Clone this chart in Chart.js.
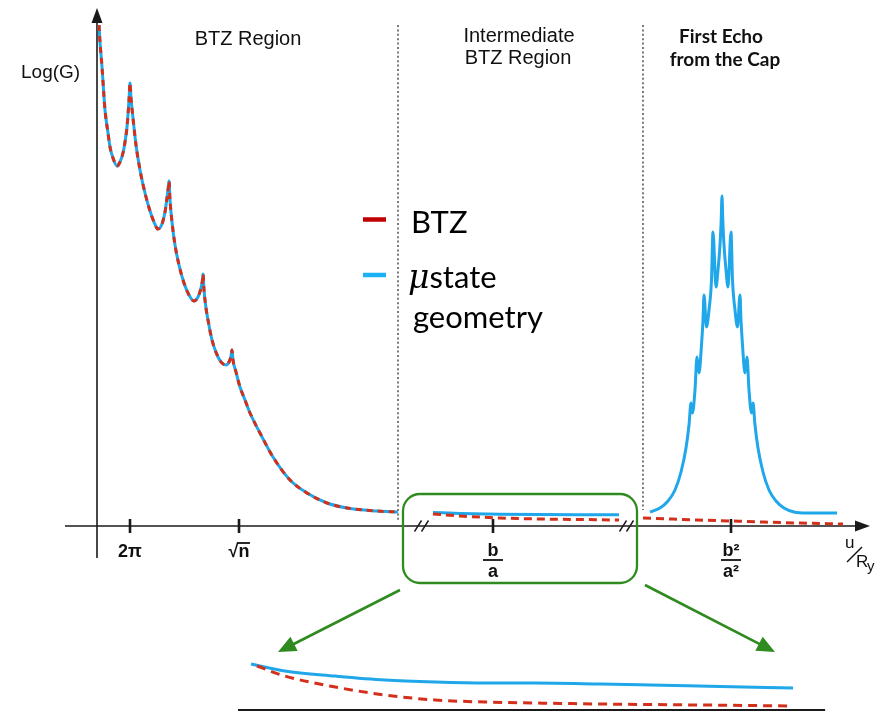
<!DOCTYPE html>
<html><head><meta charset="utf-8">
<script src="https://cdn.jsdelivr.net/npm/chart.js@4"></script>
<style>
html,body{margin:0;padding:0;background:#fff;overflow:hidden}
#wrap{position:relative;width:887px;height:711px;background:#fff}
#main{position:absolute;left:0;top:0}
#inset{position:absolute;left:238px;top:645px}
</style></head><body>
<div id="wrap"><canvas id="main" width="887" height="711"></canvas><canvas id="inset" width="592" height="66"></canvas></div>
<script>
// ---------- DATA (schematic units: x ~ u/R_y, y ~ Log(G)) ----------
// BTZ region: both geometries coincide
const btzX = [0.2,0.3,0.5,0.8,1.1,1.3,1.6,2.0,2.3,2.6,2.8,3.0,3.2,3.3,3.4,3.6,3.9,4.3,4.8,5.3,5.7,6.1,6.5,6.8,7.0,7.15,7.2,7.3,7.5,7.8,8.2,8.7,9.2,9.7,10.1,10.4,10.55,10.6,10.7,10.9,11.1,11.5,12.1,12.5,12.9,13.2,13.4,13.5,13.6,13.9,14.3,14.8,15.3,16.3,17.6,19.3,21.0,23.0,25.0,28.0,30.1];
const btzY = [50.1,48.4,45.9,41.6,39.3,37.9,36.8,36.0,36.4,37.3,38.4,39.9,42.6,44.3,42.8,40.8,38.1,35.6,33.3,31.5,30.4,29.7,30.2,31.4,32.8,34.0,34.5,32.6,30.4,28.1,26.1,24.3,23.1,22.5,22.9,23.8,24.6,25.2,23.6,21.8,20.6,18.6,16.9,16.3,16.1,16.4,17.0,17.6,16.6,15.4,13.9,12.6,11.3,9.3,6.9,4.6,3.3,2.3,1.8,1.5,1.4];
// Intermediate BTZ region
const midX = [33.6,36.3,40.3,44.3,48.3,52.2];
const midMicrostate = [1.35,1.25,1.17,1.14,1.13,1.12];
const midBTZ = [1.2,1.0,0.8,0.7,0.65,0.6];
// First echo from the cap
const echoX = [55.3,56.3,57.1,57.8,58.4,58.9,59.2,59.4,59.55,59.8,60.0,60.2,60.45,60.6,60.7,60.95,61.2,61.45,61.6,61.9,62.1,62.3,62.42,62.5,62.58,62.7,62.9,63.1,63.4,63.55,63.8,64.05,64.3,64.4,64.55,64.8,65.0,65.2,65.45,65.6,65.8,66.1,66.6,67.2,67.9,68.7,69.7,71.0,74.0];
const echoMicrostate = [1.4,1.8,2.5,3.6,5.4,7.8,10.1,12.3,11.3,13.6,16.9,15.3,18.1,20.6,23.1,19.9,21.6,24.6,29.4,23.9,25.6,28.1,30.6,33.0,30.6,28.1,25.6,23.9,29.4,24.6,21.6,19.9,23.1,20.6,18.1,15.3,16.9,13.6,11.3,12.3,10.1,7.8,5.4,3.6,2.5,1.8,1.4,1.3,1.3];
const echoBtzX = [54.6,60.0,65.0,70.0,74.6];
const echoBtzY = [0.8,0.6,0.45,0.3,0.2];
// Axis ticks
const tickPos = [3.3, 14.2, 39.6, 63.4];
const tickLabels = ['2π', '√n', 'b/a', 'b²/a²'];
const breakPos = [32.5, 53.0];
const dividerPos = [30.1, 54.6];
// Zoomed inset of the intermediate region
const insetX = [0.2,6.4,15.7,24.9,34.1,43.3,52.5,64.5,73.7,86.6,100];
const insetMicrostate = [4.6,3.9,3.4,3.0,2.8,2.7,2.7,2.6,2.5,2.35,2.2];
const insetBtzX = [1.3,6.4,15.7,24.9,34.1,43.3,52.5,64.5,82.9,100];
const insetBtzY = [4.4,3.4,2.3,1.5,1.0,0.8,0.7,0.6,0.5,0.4];

const BLUE = '#1fa7ea', RED = '#d3301c', GREEN = '#2f8a1f';
const pts = (xs, ys) => xs.map((x, i) => ({x, y: ys[i]}));

function line(label, data, color, dash, order) {
  return {label, data, borderColor: color, borderWidth: 3, borderDash: dash || [],
    pointRadius: 0, fill: false, cubicInterpolationMode: 'monotone', order,
    borderCapStyle: 'butt', borderJoinStyle: 'round'};
}

const overlay = {
  id: 'overlay',
  beforeDatasetsDraw(chart) {
    const {ctx, scales: {x, y}} = chart;
    const X = v => x.getPixelForValue(v), Y = v => y.getPixelForValue(v);
    ctx.save();
    // region dividers
    ctx.strokeStyle = '#333'; ctx.lineWidth = 1.3; ctx.setLineDash([2, 2.4]);
    ctx.beginPath(); ctx.moveTo(X(dividerPos[0]), Y(50.1)); ctx.lineTo(X(dividerPos[0]), Y(0.5)); ctx.stroke();
    ctx.beginPath(); ctx.moveTo(X(dividerPos[1]), Y(50.1)); ctx.lineTo(X(dividerPos[1]), Y(1.6)); ctx.stroke();
    ctx.setLineDash([]);
    // axes
    ctx.strokeStyle = '#1a1a1a'; ctx.fillStyle = '#1a1a1a'; ctx.lineWidth = 1.6;
    const x0 = X(0), y0 = Y(0);
    const yTip = Y(51.8), xTip = X(77.3);
    ctx.beginPath(); ctx.moveTo(x0, Y(-3.2)); ctx.lineTo(x0, yTip + 10); ctx.stroke();
    ctx.beginPath(); ctx.moveTo(x0, yTip); ctx.lineTo(x0 - 5.5, yTip + 15); ctx.lineTo(x0 + 5.5, yTip + 15); ctx.closePath(); ctx.fill();
    ctx.beginPath(); ctx.moveTo(X(-3.2), y0); ctx.lineTo(xTip - 10, y0); ctx.stroke();
    ctx.beginPath(); ctx.moveTo(xTip, y0); ctx.lineTo(xTip - 15, y0 - 5.5); ctx.lineTo(xTip - 15, y0 + 5.5); ctx.closePath(); ctx.fill();
    // ticks
    ctx.lineWidth = 2.6;
    tickPos.forEach(t => { ctx.beginPath(); ctx.moveTo(X(t), Y(0.7)); ctx.lineTo(X(t), Y(-0.7)); ctx.stroke(); });
    // axis breaks
    ctx.lineWidth = 1.4;
    breakPos.forEach(b => {
      [-4, 3].forEach(o => { ctx.beginPath(); ctx.moveTo(X(b) + o - 3.5, y0 + 5.5); ctx.lineTo(X(b) + o + 3.5, y0 - 5.5); ctx.stroke(); });
    });
    // green highlight box
    ctx.strokeStyle = GREEN; ctx.lineWidth = 2.3;
    const bx0 = X(30.6), bx1 = X(54.0), by0 = Y(3.2), by1 = Y(-5.7), r = 17;
    ctx.beginPath();
    ctx.moveTo(bx0 + r, by0); ctx.lineTo(bx1 - r, by0); ctx.arcTo(bx1, by0, bx1, by0 + r, r);
    ctx.lineTo(bx1, by1 - r); ctx.arcTo(bx1, by1, bx1 - r, by1, r);
    ctx.lineTo(bx0 + r, by1); ctx.arcTo(bx0, by1, bx0, by1 - r, r);
    ctx.lineTo(bx0, by0 + r); ctx.arcTo(bx0, by0, bx0 + r, by0, r);
    ctx.stroke();
    // green arrows to inset
    const arrow = (ax, ay, bx, by) => {
      const x1 = X(ax), y1 = Y(ay), x2 = X(bx), y2 = Y(by);
      const ang = Math.atan2(y2 - y1, x2 - x1), L = 18, W = 8;
      ctx.fillStyle = GREEN; ctx.lineWidth = 2.6;
      ctx.beginPath(); ctx.moveTo(x1, y1); ctx.lineTo(x2 - Math.cos(ang) * L * 0.8, y2 - Math.sin(ang) * L * 0.8); ctx.stroke();
      ctx.beginPath(); ctx.moveTo(x2, y2);
      ctx.lineTo(x2 - L * Math.cos(ang) + W * Math.sin(ang), y2 - L * Math.sin(ang) - W * Math.cos(ang));
      ctx.lineTo(x2 - L * Math.cos(ang) - W * Math.sin(ang), y2 - L * Math.sin(ang) + W * Math.cos(ang));
      ctx.closePath(); ctx.fill();
    };
    arrow(30.3, -6.4, 18.1, -12.6);
    arrow(54.8, -5.9, 67.8, -12.6);
    ctx.restore();
  },
  afterDatasetsDraw(chart) {
    const {ctx, scales: {x, y}} = chart;
    const X = v => x.getPixelForValue(v), Y = v => y.getPixelForValue(v);
    ctx.save();
    ctx.fillStyle = '#111';
    // region titles
    ctx.font = '20px "Liberation Sans", Arial, sans-serif'; ctx.textAlign = 'center'; ctx.textBaseline = 'alphabetic';
    ctx.fillText('BTZ Region', X(15.1), Y(48.1));
    ctx.fillText('Intermediate', X(42.2), Y(48.4));
    ctx.fillText('BTZ Region', X(42.1), Y(46.2));
    ctx.font = 'bold 19px Lato, "Open Sans", sans-serif';
    ctx.fillText('First Echo', X(62.4), Y(48.3));
    ctx.fillText('from the Cap', X(62.8), Y(46.0));
    // y label
    ctx.font = '19px "Liberation Sans", Arial, sans-serif'; ctx.textAlign = 'left';
    ctx.fillText('Log(G)', X(-7.6), Y(4.48 * 10));
    // tick labels
    ctx.font = 'bold 18px "Liberation Sans", Arial, sans-serif'; ctx.textAlign = 'center';
    ctx.fillText(tickLabels[0], X(tickPos[0]), Y(-3.1));
    // sqrt n
    const sx = X(tickPos[1]), sy = Y(-3.1);
    const wR = ctx.measureText('√').width, wN = ctx.measureText('n').width;
    const left = sx - (wR + wN) / 2;
    ctx.textAlign = 'left';
    ctx.fillText('√', left, sy); ctx.fillText('n', left + wR, sy);
    ctx.strokeStyle = '#111'; ctx.lineWidth = 1.8;
    ctx.beginPath(); ctx.moveTo(left + wR - 1.5, sy - 14); ctx.lineTo(left + wR + wN + 0.5, sy - 14); ctx.stroke();
    // fractions
    ctx.textAlign = 'center';
    const frac = (t, num, den, w) => {
      const fx = X(t);
      ctx.fillText(num, fx, Y(-2.95));
      ctx.lineWidth = 1.8; ctx.beginPath(); ctx.moveTo(fx - w / 2, Y(-3.4)); ctx.lineTo(fx + w / 2, Y(-3.4)); ctx.stroke();
      ctx.fillText(den, fx, Y(-5.1));
    };
    const [n2, d2] = tickLabels[2].split('/'), [n3, d3] = tickLabels[3].split('/');
    frac(tickPos[2], n2, d2, 20);
    frac(tickPos[3], n3, d3, 20);
    // u / R_y
    ctx.font = '17px "Liberation Sans", Arial, sans-serif'; ctx.textAlign = 'left';
    ctx.fillText('u', X(74.8), Y(-2.2));
    ctx.lineWidth = 1.5; ctx.beginPath(); ctx.moveTo(X(75.0), Y(-3.6)); ctx.lineTo(X(76.5), Y(-2.1)); ctx.stroke();
    ctx.fillText('R', X(75.9), Y(-4.1));
    ctx.font = '15px "Liberation Sans", Arial, sans-serif';
    ctx.fillText('y', X(77.0), Y(-4.5));
    // legend
    ctx.lineWidth = 4.5; ctx.lineCap = 'butt';
    ctx.strokeStyle = '#c00000'; ctx.beginPath(); ctx.moveTo(X(26.6), Y(30.65)); ctx.lineTo(X(28.9), Y(30.65)); ctx.stroke();
    ctx.strokeStyle = '#1ab2f2'; ctx.beginPath(); ctx.moveTo(X(26.6), Y(25.1)); ctx.lineTo(X(28.9), Y(25.1)); ctx.stroke();
    ctx.fillStyle = '#000';
    ctx.font = '31px Lato, "Open Sans", sans-serif';
    ctx.fillText('BTZ', X(31.4), Y(29.3));
    ctx.font = 'italic 33px "DejaVu Serif", "Liberation Serif", serif';
    ctx.fillText('μ', X(31.1), Y(23.8));
    const wMu = ctx.measureText('μ').width;
    ctx.font = '31px Lato, "Open Sans", sans-serif';
    ctx.fillText('state', X(31.1) + wMu, Y(23.8));
    ctx.fillText('geometry', X(31.6), Y(19.8));
    ctx.restore();
  }
};

new Chart(document.getElementById('main'), {
  type: 'line',
  data: { datasets: [
    line('BTZ', pts(btzX, btzY), RED, [6, 5], 0),
    line('μstate geometry', pts(btzX, btzY), BLUE, [], 1),
    line('BTZ', pts(midX, midBTZ), RED, [8, 5], 0),
    line('μstate geometry', pts(midX, midMicrostate), BLUE, [], 1),
    line('BTZ', pts(echoBtzX, echoBtzY), RED, [8, 5], 0),
    line('μstate geometry', pts(echoX, echoMicrostate), BLUE, [], 1)
  ]},
  options: {
    responsive: false, maintainAspectRatio: false, animation: false,
    layout: { padding: 0 },
    plugins: { legend: { display: false }, tooltip: { enabled: false } },
    scales: {
      x: { type: 'linear', display: false, min: -9.7, max: 79.0 },
      y: { type: 'linear', display: false, min: -18.5, max: 52.6 }
    }
  },
  plugins: [overlay]
});

const insetAxis = {
  id: 'insetAxis',
  beforeDatasetsDraw(chart) {
    const {ctx, scales: {x, y}} = chart;
    ctx.save(); ctx.strokeStyle = '#1a1a1a'; ctx.lineWidth = 2;
    ctx.beginPath(); ctx.moveTo(x.getPixelForValue(-2.2), y.getPixelForValue(0)); ctx.lineTo(x.getPixelForValue(105.9), y.getPixelForValue(0)); ctx.stroke();
    ctx.restore();
  }
};

new Chart(document.getElementById('inset'), {
  type: 'line',
  data: { datasets: [
    line('BTZ', pts(insetBtzX, insetBtzY), RED, [9, 6], 0),
    line('μstate geometry', pts(insetX, insetMicrostate), BLUE, [], 1)
  ]},
  options: {
    responsive: false, maintainAspectRatio: false, animation: false,
    layout: { padding: 0 },
    plugins: { legend: { display: false }, tooltip: { enabled: false } },
    scales: {
      x: { type: 'linear', display: false, min: -2.2, max: 106.8 },
      y: { type: 'linear', display: false, min: -0.1, max: 6.5 }
    }
  },
  plugins: [insetAxis]
});
</script>
</body></html>
